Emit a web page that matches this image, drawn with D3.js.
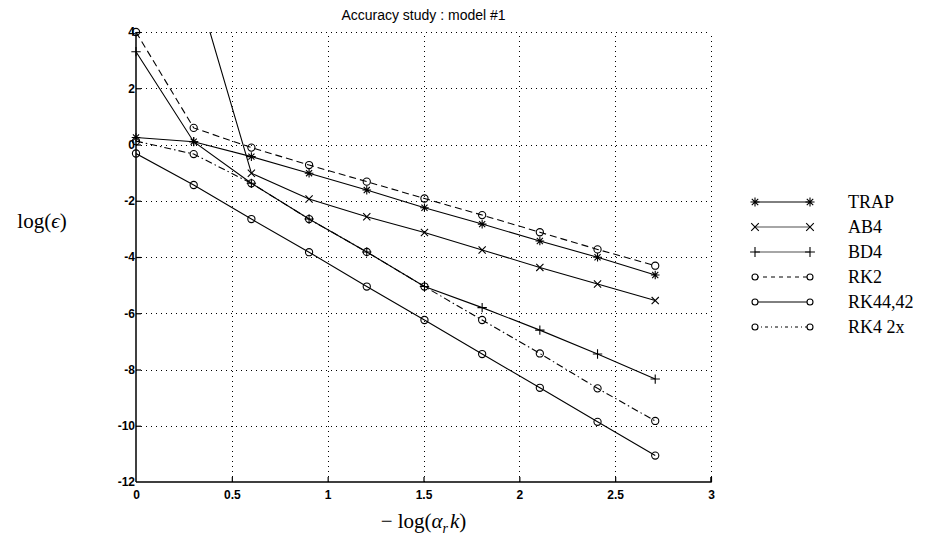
<!DOCTYPE html>
<html>
<head>
<meta charset="utf-8">
<script src="https://cdn.jsdelivr.net/npm/d3@7"></script>
<style>
  body { margin: 0; background: #fff; }
  svg { display: block; }
</style>
</head>
<body>
<svg id="chart" width="933" height="540"></svg>
<script>
// ---------- data ----------
const titleText = "Accuracy study : model #1";
const xValues = [0, 0.301, 0.602, 0.903, 1.204, 1.505, 1.806, 2.107, 2.408, 2.709];
const xTicks = [0, 0.5, 1, 1.5, 2, 2.5, 3];
const yTicks = [-12, -10, -8, -6, -4, -2, 0, 2, 4];
const seriesNames = ["TRAP", "AB4", "BD4", "RK2", "RK44,42", "RK4 2x"];
const trapValues = [0.25, 0.1, -0.43, -1.02, -1.62, -2.25, -2.83, -3.43, -4.01, -4.64];
const ab4Values  = [null, 5.97, -1.02, -1.94, -2.57, -3.13, -3.75, -4.37, -4.96, -5.55];
const bd4Values  = [3.3, 0.1, -1.38, -2.65, -3.82, -5.05, -5.8, -6.6, -7.45, -8.34];
const rk2Values  = [4.0, 0.59, -0.11, -0.73, -1.32, -1.92, -2.51, -3.12, -3.73, -4.31];
const rk44Values = [-0.32, -1.44, -2.65, -3.83, -5.05, -6.24, -7.45, -8.65, -9.86, -11.06];
const rk4x2Values = [0.12, -0.34, -1.38, -2.65, -3.82, -5.05, -6.24, -7.43, -8.67, -9.83];

// ---------- styles ----------
const styles = {
  "TRAP":    { marker: "star",   dash: null },
  "AB4":     { marker: "x",      dash: null },
  "BD4":     { marker: "plus",   dash: null },
  "RK2":     { marker: "circle", dash: "7,4" },
  "RK44,42": { marker: "circle", dash: null },
  "RK4 2x":  { marker: "circle", dash: "7,3,1.5,3" }
};
const seriesData = [trapValues, ab4Values, bd4Values, rk2Values, rk44Values, rk4x2Values];

const svg = d3.select("#chart");

const x = d3.scaleLinear().domain([0, 3]).range([136, 711]);
const y = d3.scaleLinear().domain([-12, 4]).range([482, 32]);

// title
svg.append("text")
  .attr("x", (x(0) + x(3)) / 2).attr("y", 20)
  .attr("text-anchor", "middle")
  .attr("font-family", "Liberation Sans, Arial, sans-serif")
  .attr("font-size", 14)
  .text(titleText);

// grid
const grid = svg.append("g").attr("stroke", "#000").attr("stroke-width", 1)
  .attr("stroke-dasharray", "1,4").attr("fill", "none");
xTicks.filter(d => d > 0).forEach(t => {
  grid.append("line").attr("x1", Math.round(x(t)) + 0.5).attr("x2", Math.round(x(t)) + 0.5)
    .attr("y1", y(-12)).attr("y2", y(4));
});
yTicks.filter(d => d > -12).forEach(t => {
  grid.append("line").attr("y1", Math.round(y(t)) + 0.5).attr("y2", Math.round(y(t)) + 0.5)
    .attr("x1", x(0)).attr("x2", x(3));
});

// clip
svg.append("defs").append("clipPath").attr("id", "plotclip")
  .append("rect").attr("x", x(0)).attr("y", y(4)).attr("width", x(3) - x(0)).attr("height", y(-12) - y(4));

// marker path generator
function markerPath(type, s) {
  const r = s;
  if (type === "circle") {
    return `M${-r},0A${r},${r} 0 1,0 ${r},0A${r},${r} 0 1,0 ${-r},0Z`;
  } else if (type === "x") {
    return `M${-r},${-r}L${r},${r}M${-r},${r}L${r},${-r}`;
  } else if (type === "plus") {
    const p = r * 1.3;
    return `M${-p},0L${p},0M0,${-p}L0,${p}`;
  } else if (type === "star") {
    const p = r * 1.2, q = r * 0.85;
    return `M${-p},0L${p},0M0,${-p}L0,${p}M${-q},${-q}L${q},${q}M${-q},${q}L${q},${-q}`;
  }
  return "";
}

const lineGen = d3.line()
  .defined(d => d[1] !== null)
  .x(d => x(d[0])).y(d => y(d[1]));

const plot = svg.append("g");
seriesNames.forEach((name, i) => {
  const vals = seriesData[i];
  const pts = xValues.map((xv, j) => [xv, vals[j]]);
  const st = styles[name];
  plot.append("path")
    .attr("clip-path", "url(#plotclip)")
    .attr("d", lineGen(pts))
    .attr("fill", "none").attr("stroke", "#000").attr("stroke-width", 1.1)
    .attr("stroke-dasharray", st.dash);
  plot.selectAll(null)
    .data(pts.filter(d => d[1] !== null && d[1] <= 4 && d[1] >= -12))
    .enter().append("path")
    .attr("transform", d => `translate(${x(d[0])},${y(d[1])})`)
    .attr("d", markerPath(st.marker, 3.6))
    .attr("fill", "none").attr("stroke", "#000").attr("stroke-width", 1.1);
});

// axes
const axisFont = "Liberation Sans, Arial, Helvetica, sans-serif";
const xAxis = svg.append("g").attr("transform", `translate(0,${y(-12)})`)
  .call(d3.axisBottom(x).tickValues(xTicks).tickSize(-5).tickPadding(8).tickFormat(d3.format("")));
const yAxis = svg.append("g").attr("transform", `translate(${x(0)},0)`)
  .call(d3.axisLeft(y).tickValues(yTicks).tickSize(-5).tickPadding(3).tickFormat(d3.format("")));
[xAxis, yAxis].forEach(a => {
  a.select(".domain").attr("stroke", "#000").attr("stroke-width", 1.5);
  a.selectAll(".tick line").attr("stroke", "#000").attr("stroke-width", 1.2);
  a.selectAll(".tick text").attr("font-family", axisFont).attr("font-size", 12)
    .attr("font-weight", "bold").attr("fill", "#000");
});
xAxis.select(".domain").attr("d", `M${x(0)},0H${x(3)}V-5`);
yAxis.select(".domain").attr("d", `M0,${y(-12)}V${y(4)}`);
xAxis.selectAll(".tick line").filter(d => d === 0).remove();
yAxis.selectAll(".tick line").filter(d => d === -12).remove();
yAxis.selectAll(".tick text").text(d => String(d)).attr("dx", 2);

// axis labels
const serif = "Liberation Serif, Times New Roman, serif";
const yl = svg.append("text").attr("x", 42).attr("y", 228).attr("text-anchor", "middle")
  .attr("font-family", serif).attr("font-size", 21);
yl.append("tspan").text("log(");
yl.append("tspan").attr("font-style", "italic").text("\u03F5");
yl.append("tspan").text(")");

const xl = svg.append("text").attr("x", (x(0) + x(3)) / 2).attr("y", 528).attr("text-anchor", "middle")
  .attr("font-family", serif).attr("font-size", 21);
xl.append("tspan").text("\u2212 log(");
xl.append("tspan").attr("font-style", "italic").text("\u03B1");
xl.append("tspan").attr("font-style", "italic").attr("font-size", 14).attr("dy", 5).text("r");
xl.append("tspan").attr("font-style", "italic").attr("dy", -5).attr("dx", 2).text("k");
xl.append("tspan").text(")");

// legend
const legendRows = [202, 227, 252, 277, 302, 327];
const lg = svg.append("g");
seriesNames.forEach((name, i) => {
  const st = styles[name];
  const ly = legendRows[i];
  const x1 = 755, x2 = 810;
  lg.append("line").attr("x1", x1).attr("x2", x2).attr("y1", ly).attr("y2", ly)
    .attr("stroke", "#000").attr("stroke-width", st.marker === "x" || st.marker === "plus" ? 0.7 : 1)
    .attr("stroke-dasharray", st.dash === null ? null : (name === "RK2" ? "4,4" : "3,3,1,3"));
  [x1, x2].forEach(mx => {
    lg.append("path").attr("transform", `translate(${mx},${ly})`)
      .attr("d", markerPath(st.marker, st.marker === "circle" ? 3 : 3.8))
      .attr("fill", st.marker === "circle" ? "#fff" : "none")
      .attr("stroke", "#000").attr("stroke-width", 1.1);
  });
  lg.append("text").attr("x", 848).attr("y", ly + 6)
    .attr("font-family", serif).attr("font-size", 18).text(name);
});
</script>
</body>
</html>
